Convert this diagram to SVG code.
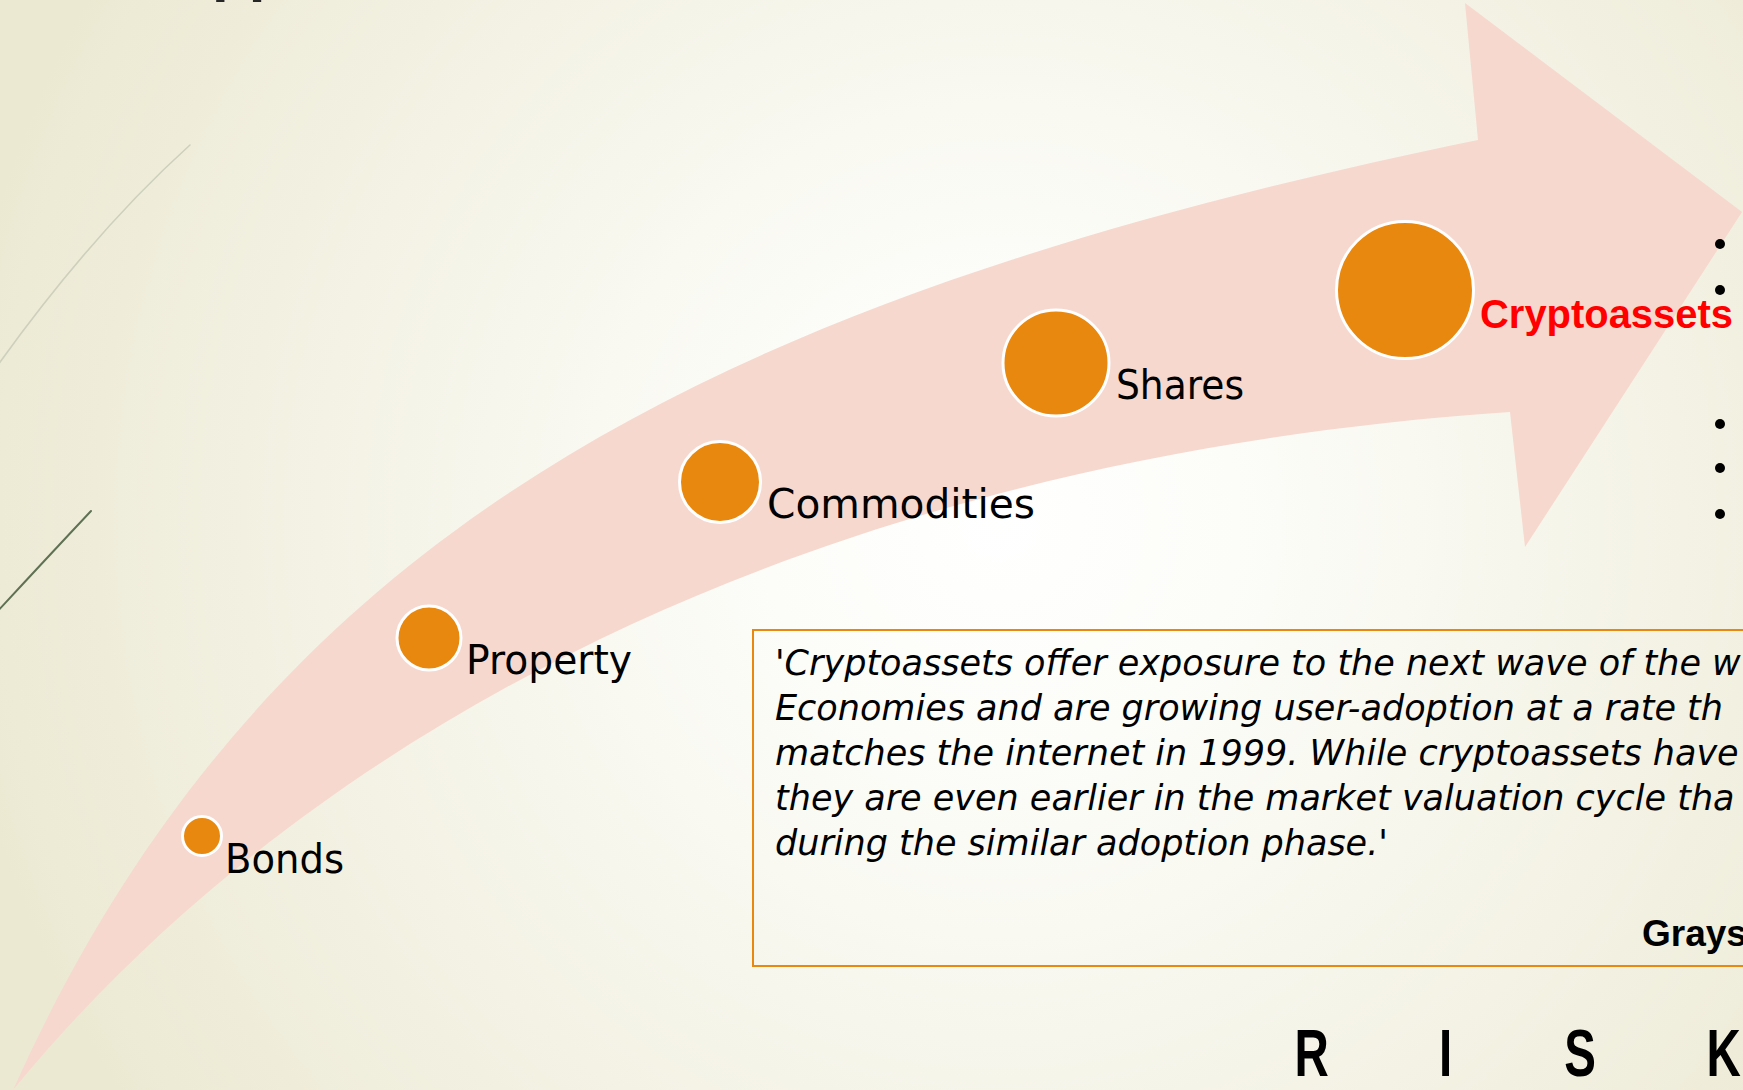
<svg xmlns="http://www.w3.org/2000/svg" width="1743" height="1090" viewBox="0 0 1743 1090">
  <defs>
    <radialGradient id="bg" gradientUnits="userSpaceOnUse" cx="1000" cy="520" r="1050">
      <stop offset="0" stop-color="#FFFFFF"/>
      <stop offset="0.3" stop-color="#FBFBF6"/>
      <stop offset="1" stop-color="#ECE9D3"/>
    </radialGradient>
    <style>
      .dot { fill: #E8880F; stroke: #FFFFFF; stroke-width: 3; }
      .lbl { font-family: "DejaVu Sans", "Liberation Sans", sans-serif; font-size: 40px; fill: #000000; }
      .quote { font-family: "DejaVu Sans", "Liberation Sans", sans-serif; font-style: italic; font-size: 35px; fill: #000000; }
      .bold { font-family: "Liberation Sans", Arial, sans-serif; font-weight: bold; }
    </style>
  </defs>

  <rect id="background" x="0" y="0" width="1743" height="1090" fill="url(#bg)"/>

  <g id="wisps" fill="none" stroke-linecap="round">
    <path d="M-10,376 Q90,235 190,145" stroke="#CDD0BC" stroke-width="1.6"/>
    <path d="M-5,614 Q45,560 91,511" stroke="#5F7153" stroke-width="2"/>
  </g>

  <text id="title-fragment" class="bold" x="212" y="-10.5" font-size="60" fill="#262626">pp</text>

  <g id="connectors">
    <path id="arrow" fill="#F6D8CE"
      d="M13,1090 C260,540 700,300 1478,140 L1465,3 L1742,212 L1525,547 L1510,412 C800,460 300,740 13,1090 Z"/>
  </g>

  <g id="node-bonds">
    <circle class="dot" cx="202" cy="836" r="19.5"/>
    <text class="lbl" x="225" y="873" textLength="119" lengthAdjust="spacingAndGlyphs">Bonds</text>
  </g>
  <g id="node-property">
    <circle class="dot" cx="429" cy="638" r="32"/>
    <text class="lbl" x="466" y="674" textLength="166" lengthAdjust="spacingAndGlyphs">Property</text>
  </g>
  <g id="node-commodities">
    <circle class="dot" cx="720" cy="482" r="40.5"/>
    <text class="lbl" x="767" y="518" textLength="268" lengthAdjust="spacingAndGlyphs">Commodities</text>
  </g>
  <g id="node-shares">
    <circle class="dot" cx="1056" cy="363" r="53"/>
    <text class="lbl" x="1116" y="399" textLength="128" lengthAdjust="spacingAndGlyphs">Shares</text>
  </g>
  <g id="node-cryptoassets">
    <circle class="dot" cx="1405" cy="290" r="68.5"/>
    <text class="bold" x="1480" y="328" font-size="41" fill="#FF0000" textLength="253" lengthAdjust="spacingAndGlyphs">Cryptoassets</text>
  </g>

  <g id="bullets" fill="#000000">
    <circle cx="1720" cy="244" r="5"/>
    <circle cx="1720" cy="290" r="5"/>
    <circle cx="1720" cy="424" r="5"/>
    <circle cx="1720" cy="468" r="5"/>
    <circle cx="1720" cy="514" r="5"/>
  </g>

  <g id="quote-box">
    <rect x="753" y="630" width="1100" height="336" fill="none" stroke="#E8880F" stroke-width="2"/>
    <text class="quote" x="775" y="675">'Cryptoassets offer exposure to the next wave of the w</text>
    <text class="quote" x="775" y="720">Economies and are growing user-adoption at a rate th</text>
    <text class="quote" x="775" y="765">matches the internet in 1999. While cryptoassets have</text>
    <text class="quote" x="775" y="810">they are even earlier in the market valuation cycle tha</text>
    <text class="quote" x="775" y="855">during the similar adoption phase.'</text>
    <text class="bold" x="1642" y="946" font-size="37" fill="#000000">Grays</text>
  </g>

  <g id="risk">
    <text class="bold" font-size="66" fill="#000000" transform="scale(0.72,1)" x="1798 1850 1998.6 2050 2172.6 2230 2370" y="1076">R I S K</text>
  </g>
</svg>
